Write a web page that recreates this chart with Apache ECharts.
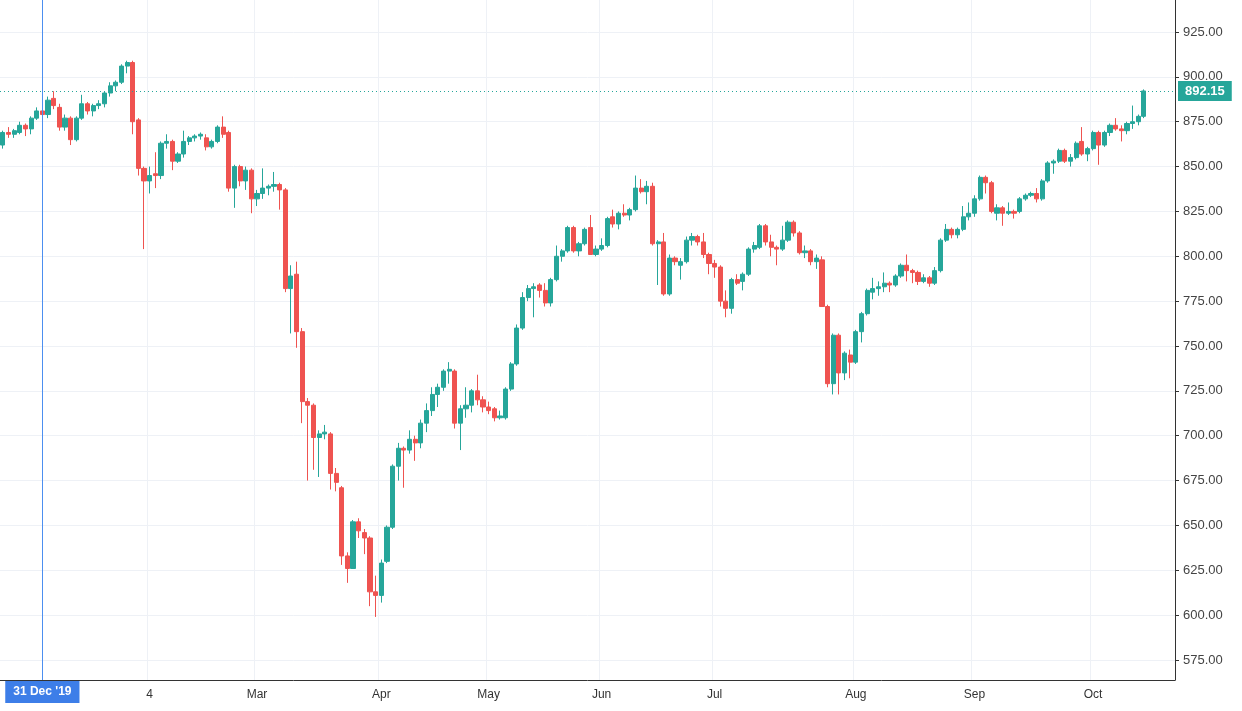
<!DOCTYPE html>
<html><head><meta charset="utf-8">
<script src="https://cdn.jsdelivr.net/npm/echarts@6/dist/echarts.min.js"></script>
<style>html,body{margin:0;padding:0;background:#fff}#c{width:1242px;height:711px}</style>
</head><body><div id="c"></div>
<script>
// [open, close, low, high]
const ohlc = [
[862,869,860,870],[869,868,866,872],[868,870,866,871],[869,873,868,875],[873,871,867,874],
[871,877,868,878],[877,881,876,883],[881,879,877,882],[879,887,877,889],[888,884,882,892],
[883,872,870,885],[872,877,870,879],[877,865,862,878],[865,877,864,878],[877,885,876,890],
[885,881,879,886],[881,884,878,885],[884,885,882,887],[885,891,883,892],[891,895,889,897],
[895,897,892,898],[897,906,896,907],[906,908,902,909],[908,875,868,909],[876,849,845,877],
[849,842,804,850],[842,845,835,850],[846,845,838,858],[845,863,843,864],[863,864,860,868],
[864,853,848,865],[853,857,852,858],[857,864,855,870],[864,866,862,867],[866,867,864,868],
[867,868,865,869],[866,861,859,868],[861,864,860,865],[864,872,863,873],[872,868,866,878],
[869,838,836,870],[838,850,827,851],[850,842,839,851],[842,848,837,850],[848,832,824,849],
[832,835,828,837],[835,838,832,849],[838,839,834,840],[839,840,836,847],[840,837,826,841],
[837,782,780,838],[782,789,757,795],[790,758,749,797],[758,719,707,760],[719,717,675,721],
[717,699,681,718],[699,701,677,703],[701,702,698,706],[701,679,670,702],[679,674,669,682],
[671,633,628,672],[633,626,618,635],[626,652,626,653],[652,647,643,654],[646,643,634,648],
[643,613,605,644],[613,611,599,622],[611,629,607,631],[630,649,629,650],[649,683,648,684],
[683,693,675,696],[693,692,671,694],[692,698,690,703],[698,696,686,700],[696,707,693,709],
[707,714,702,718],[714,723,711,727],[723,727,716,729],[727,736,725,737],[736,737,729,741],
[736,707,704,737],[707,715,692,717],[715,717,710,727],[717,725,713,726],[725,720,717,734],
[720,716,713,722],[716,714,712,719],[715,710,708,716],[710,711,709,714],[710,726,709,727],
[726,740,725,741],[740,760,739,762],[760,777,759,780],[777,782,775,784],[782,783,766,785],
[784,781,777,785],[781,774,772,785],[774,787,772,788],[787,800,786,806],[800,803,797,804],
[803,816,802,817],[816,803,802,817],[803,807,800,808],[807,815,806,816],[816,801,801,823],
[801,804,800,806],[804,806,803,810],[806,821,805,822],[822,818,816,826],[818,824,815,825],
[824,823,822,829],[823,826,820,827],[826,838,825,845],[838,836,835,843],[836,839,829,842],
[839,807,806,841],[807,808,784,809],[808,779,778,813],[779,799,778,801],[799,797,795,800],
[795,797,787,799],[797,809,796,811],[809,811,806,813],[811,808,806,812],[808,801,799,813],
[801,796,790,802],[796,794,788,798],[794,775,772,795],[775,771,766,781],[771,787,768,788],
[787,785,784,790],[786,790,781,791],[790,804,789,805],[804,806,802,808],[805,817,804,818],
[817,808,806,818],[808,805,800,812],[805,804,795,806],[804,809,803,817],[809,819,808,820],
[819,813,811,820],[813,802,801,814],[802,803,799,806],[803,797,795,804],[797,799,793,801],
[798,772,772,800],[772,729,727,773],[729,756,723,757],[756,735,723,757],[735,746,731,747],
[745,741,732,748],[741,758,740,759],[758,768,752,769],[768,781,767,782],[780,782,776,788],
[782,783,778,786],[783,785,780,791],[785,784,780,786],[784,789,783,790],[789,795,788,796],
[795,792,786,801],[792,791,785,793],[791,786,784,792],[786,788,785,790],[788,785,783,789],
[785,792,784,794],[792,809,791,810],[809,815,808,818],[815,812,810,816],[812,815,810,816],
[815,822,814,828],[822,824,820,830],[824,832,822,834],[832,844,831,845],[844,841,835,845],
[841,825,824,842],[824,827,820,829],[827,824,817,828],[824,825,823,830],[825,824,821,826],
[825,832,824,833],[832,834,831,835],[834,835,833,836],[835,832,830,838],[832,842,831,843],
[842,852,841,853],[852,853,846,854],[853,859,852,860],[859,853,852,860],[853,855,850,857],
[855,863,854,864],[864,857,856,872],[857,860,853,861],[860,869,859,870],[869,862,851,870],
[862,869,861,870],[869,873,867,874],[873,871,870,877],[871,870,864,873],[870,874,868,875],
[874,875,871,884],[875,878,873,879],[878,892.15,877,893]
];
const tickIndex = [26,45,67,86,106,126,151,172,193];
const tickLabels = ['4','Mar','Apr','May','Jun','Jul','Aug','Sep','Oct'];
const crossIndex = 7;
const crossLabel = "31 Dec '19";
const lastPrice = 892.15;
const emptySlots = 5; // right-side blank space

const categories = [];
for (let i = 0; i < ohlc.length + emptySlots; i++) categories.push(String(i));
const candleData = ohlc.map(d=>[d[0],d[1],d[2],d[3]]);
const grid0 = {left:0,right:67,top:32,bottom:51};
const grid1 = {left:0,right:67,top:0,bottom:31};
const chart = echarts.init(document.getElementById('c'));
const gridColor = '#eef1f6';
const teal = '#26a69a';
chart.setOption({
  animation:false,
  grid:[grid0,grid1],
  xAxis:[
    {type:'category',data:categories,gridIndex:0,show:false,boundaryGap:true},
    {type:'category',data:categories,gridIndex:1,boundaryGap:true,
     axisLine:{show:true,lineStyle:{color:'#333',width:1}},axisTick:{show:false},
     axisLabel:{interval:(i)=>tickIndex.includes(i),formatter:(v,i)=>{const k=tickIndex.indexOf(i);return k>=0?tickLabels[k]:'';},
       color:'#333',fontSize:12,fontFamily:'Arial, Liberation Sans',margin:9},
     splitLine:{show:true,interval:(i)=>tickIndex.includes(i),lineStyle:{color:gridColor,width:1}}}
  ],
  yAxis:[
    {type:'value',gridIndex:0,position:'right',min:575,max:925,interval:25,
     axisLine:{show:false},axisTick:{show:true,length:4,lineStyle:{color:'#333'}},
     axisLabel:{formatter:v=>v.toFixed(2),color:'#444',fontSize:13,fontFamily:'Arial, Liberation Sans',margin:8},
     splitLine:{lineStyle:{color:gridColor,width:1}}},
    {type:'value',gridIndex:1,position:'right',min:0,max:1,
     axisLine:{show:true,lineStyle:{color:'#333',width:1}},axisTick:{show:false},axisLabel:{show:false},splitLine:{show:false}}
  ],
  series:[
    {type:'candlestick',xAxisIndex:0,yAxisIndex:0,data:candleData,barWidth:'82%',
     itemStyle:{color:teal,color0:'#ef5350',borderColor:teal,borderColor0:'#ef5350',borderWidth:1},
     markLine:{symbol:'none',silent:true,itemStyle:{color:teal},
       data:[{yAxis:lastPrice,lineStyle:{type:[1,3],color:teal,width:1}}],
       lineStyle:{type:[1,3],color:teal,width:1},
       label:{position:'end',formatter:lastPrice.toFixed(2),color:'#fff',backgroundColor:teal,
         fontSize:13,fontWeight:'bold',fontFamily:'Arial, Liberation Sans',padding:[4,7,3,7],distance:3}}},
    {type:'line',xAxisIndex:1,yAxisIndex:1,data:[],itemStyle:{color:'#4c8ff0'},lineStyle:{color:'#4c8ff0'},
     markLine:{symbol:'none',silent:true,
       data:[{xAxis:crossIndex,lineStyle:{type:'solid',color:'#4c8ff0',width:1}}],
       lineStyle:{type:'solid',color:'#4c8ff0',width:1},
       label:{position:'start',formatter:crossLabel,color:'#fff',backgroundColor:'#3d7ee8',
         fontSize:12,fontWeight:'bold',fontFamily:'Arial, Liberation Sans',padding:[5,8,5,8],distance:1}}}
  ]
});
</script></body></html>
